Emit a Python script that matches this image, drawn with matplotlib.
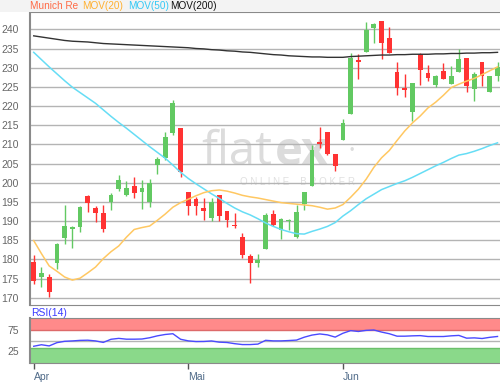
import matplotlib
matplotlib.use("Agg")
import matplotlib.pyplot as plt
from matplotlib.patches import Rectangle

plt.rcParams['font.family'] = ['Liberation Sans', 'DejaVu Sans']

# daily candles, Apr - Jun
opens = [179.2, 175.5, 175.5, 179.0, 185.6, 188.0, 188.5, 196.4, 193.5, 192.0,
         194.9, 198.4, 196.8, 199.1, 197.7, 194.9, 204.6, 206.4, 212.9, 214.2,
         197.5, 195.7, 193.3, 190.7, 196.9, 192.5, 189.0, 185.9, 181.0, 179.0,
         182.6, 191.8, 187.7, 190.0, 185.9, 194.4, 199.2, 210.5, 213.3, 207.5,
         211.1, 217.9, 232.0, 234.2, 240.3, 242.2, 237.7, 228.9, 224.8, 218.5,
         233.5, 228.7, 225.4, 229.2, 225.7, 228.9, 232.4, 224.4, 231.5, 223.6,
         227.7]
highs = [181.1, 177.9, 176.1, 184.4, 194.2, 188.6, 193.9, 196.9, 193.9, 194.2,
         197.2, 202.0, 200.5, 201.4, 200.6, 200.9, 206.8, 213.3, 221.6, 214.2,
         197.5, 196.3, 195.9, 195.9, 196.9, 192.5, 192.2, 186.8, 181.5, 181.4,
         192.2, 192.8, 190.7, 190.5, 194.2, 197.6, 209.8, 214.4, 213.3, 207.5,
         216.5, 233.9, 233.5, 241.8, 241.6, 242.2, 240.5, 231.5, 228.3, 225.9,
         233.9, 230.7, 228.1, 231.3, 230.4, 234.8, 232.4, 228.9, 231.5, 227.7,
         231.5]
lows = [173.6, 172.9, 170.3, 177.4, 183.9, 182.9, 187.2, 192.4, 189.8, 187.1,
        192.9, 197.9, 196.5, 196.1, 193.2, 193.7, 202.2, 205.9, 212.4, 201.4,
        191.6, 191.6, 190.3, 190.0, 190.1, 188.4, 188.2, 180.4, 173.8, 177.9,
        182.6, 188.6, 185.2, 187.7, 185.5, 192.8, 199.2, 209.0, 207.1, 203.1,
        211.1, 217.9, 227.0, 234.2, 236.5, 232.3, 233.7, 222.9, 222.3, 216.2,
        225.4, 226.4, 225.0, 227.1, 225.7, 228.9, 223.7, 221.4, 225.2, 223.6,
        226.4]
closes = [174.4, 176.5, 171.6, 184.0, 188.7, 188.4, 193.7, 194.6, 192.2, 187.9,
          196.7, 200.7, 198.7, 197.4, 198.5, 199.9, 206.2, 212.0, 220.7, 202.9,
          193.9, 193.9, 192.7, 195.0, 191.2, 190.4, 188.7, 181.1, 179.0, 179.8,
          191.6, 189.0, 190.5, 190.3, 192.4, 197.6, 208.5, 210.1, 207.5, 204.4,
          215.5, 232.4, 231.4, 239.8, 241.4, 236.5, 233.7, 224.6, 224.1, 225.9,
          229.4, 227.4, 227.7, 227.1, 227.7, 232.2, 225.2, 228.4, 227.7, 227.7,
          230.1]

mov20 = [184.9, 181.5, 178.3, 176.9, 175.4, 174.6, 175.1, 176.5, 178.0, 180.2,
         182.0, 183.5, 185.8, 187.8, 188.3, 188.7, 190.2, 191.8, 193.6, 194.8,
         195.7, 196.6, 197.4, 197.9, 198.1, 197.8, 197.3, 196.7, 196.3, 196.0,
         195.6, 195.2, 194.8, 194.6, 194.4, 194.2, 194.0, 193.6, 193.1, 193.4,
         194.3, 196.2, 198.3, 200.9, 204.0, 206.5, 208.4, 211.0, 213.5, 215.6,
         217.4, 219.5, 221.0, 222.8, 224.8, 225.7, 226.5, 227.2, 228.2, 229.2,
         230.2]
mov50 = [234.0, 232.1, 230.2, 228.4, 226.6, 224.9, 223.5, 222.1, 220.7, 219.0,
         217.3, 215.7, 214.2, 212.6, 211.0, 209.4, 207.9, 206.4, 204.6, 202.7,
         201.1, 199.7, 198.4, 197.1, 195.9, 194.6, 193.4, 192.4, 191.6, 190.6,
         189.5, 188.6, 187.8, 187.2, 186.7, 186.6, 187.3, 187.9, 188.6, 189.6,
         191.3, 192.7, 194.3, 195.8, 197.0, 198.2, 199.0, 199.8, 200.5, 201.4,
         202.4, 203.4, 204.4, 205.3, 206.3, 207.2, 207.6, 208.2, 208.9, 209.7,
         210.4]
mov200 = [238.3, 238.0, 237.7, 237.4, 237.1, 236.9, 236.8, 236.7, 236.5, 236.3,
          236.2, 236.1, 236.0, 235.9, 235.8, 235.7, 235.6, 235.5, 235.4, 235.3,
          235.2, 235.0, 234.9, 234.7, 234.6, 234.4, 234.3, 234.1, 234.0, 233.8,
          233.6, 233.4, 233.3, 233.1, 233.0, 232.9, 232.8, 232.8, 232.7, 232.7,
          232.7, 232.9, 233.0, 233.1, 233.2, 233.3, 233.3, 233.4, 233.4, 233.5,
          233.5, 233.5, 233.6, 233.6, 233.7, 233.7, 233.8, 233.8, 233.9, 233.9,
          234.0]
rsi = [36.9, 40.5, 37.7, 45.4, 48.6, 49.5, 50.8, 51.2, 49.5, 46.0,
       53.4, 55.5, 53.6, 53.6, 54.0, 57.0, 61.5, 64.7, 66.5, 53.4,
       49.6, 48.0, 48.2, 49.4, 46.6, 45.8, 43.0, 40.9, 40.9, 42.0,
       50.9, 49.6, 49.6, 50.4, 51.5, 58.3, 63.3, 66.0, 63.8, 58.5,
       67.6, 73.8, 71.8, 74.4, 75.3, 70.4, 66.5, 60.7, 60.7, 61.5,
       62.0, 59.9, 59.9, 59.9, 61.5, 62.5, 56.0, 56.7, 55.2, 58.0,
       60.0]

month_pos = [0, 20, 40]
month_labels = ["Apr", "Mai", "Jun"]
price_ticks = list(range(170, 245, 5))

GREEN = "#62c962"
RED = "#ff3333"
GRID = "#b4b4b4"
SPINE = "#8a8a8a"

W, H = 500, 383
fig = plt.figure(figsize=(W / 100, H / 100), dpi=100, facecolor="white")

# light header strip
fig.patches.append(Rectangle((0, 1 - 11.7 / H), 1, 11.7 / H, transform=fig.transFigure,
                             facecolor="#f3f3f3", edgecolor="none", zorder=0))

ax = fig.add_axes([30 / W, 1 - 305 / H, 470 / W, (305 - 11.7) / H])
rax = fig.add_axes([30 / W, 1 - 362.7 / H, 470 / W, (362.7 - 318.3) / H])

xs = list(range(len(opens)))
xlim = (-0.48, 60.32)

# watermark
ax.text(0.515, 0.52, "flat", transform=ax.transAxes, fontsize=34, color="#dcdcdc",
        ha="right", va="center", family="Open Sans", zorder=0.5)
ax.text(0.522, 0.52, "ex", transform=ax.transAxes, fontsize=34, color="#dcdcdc",
        ha="left", va="center", family="Open Sans", weight="bold", zorder=0.5)
ax.text(0.685, 0.525, "\u2022", transform=ax.transAxes, fontsize=9, color="#dcdcdc",
        ha="center", va="center", zorder=0.5)
ax.text(0.57, 0.42, "O N L I N E    B R O K E R", transform=ax.transAxes, fontsize=7,
        color="#e0e0e0", ha="center", va="center", zorder=0.5)

# candles
for i in xs:
    o, c = opens[i], closes[i]
    col = GREEN if c >= o else RED
    ax.vlines(i, lows[i], highs[i], color=col, lw=1.0, zorder=3)
    h = abs(c - o)
    if h < 0.35:
        h = 0.35
    ax.bar(i, h, bottom=min(o, c), width=0.62, color=col, edgecolor="none", zorder=4)

ax.plot(xs, mov200, color="#333333", lw=1.0, zorder=5)
ax.plot(xs, mov50, color="#66ddf5", lw=1.1, zorder=5)
ax.plot(xs, mov20, color="#ffc862", lw=1.1, zorder=5)

ax.set_xlim(*xlim)
ax.set_ylim(168.1, 244.6)
ax.set_yticks(price_ticks)
ax.yaxis.grid(True, color=GRID, lw=1.0, zorder=1)
ax.set_axisbelow(True)
ax.set_xticks([])
ax.tick_params(axis="y", length=0, pad=8, labelsize=7.5, labelcolor="#666666")
for s in ["left", "top", "bottom"]:
    ax.spines[s].set_color(SPINE)
ax.spines["left"].set_linewidth(1.5)
ax.spines["right"].set_visible(False)

# header legend
hy = 1 - 6 / H
fig.text(30 / W, hy, "Munich Re", color="#ff6a45", fontsize=7.2, va="center")
fig.text(81.7 / W, hy, "MOV(20)", color="#ffb030", fontsize=7.2, va="center")
fig.text(127.7 / W, hy, "MOV(50)", color="#33c8f5", fontsize=7.2, va="center")
fig.text(170.5 / W, hy, "MOV(200)", color="#111111", fontsize=7.2, va="center")

# RSI panel
rlo, rhi = -1.9, 102.9
rax.axhspan(75, rhi, color="#ff8a8a", zorder=1, lw=0)
rax.axhspan(rlo, 33.5, color="#8ad98a", zorder=1, lw=0)
rax.axhline(75, color="#dd6a6a", lw=1.0, zorder=2)
rax.axhline(33.5, color="#6cbf6c", lw=1.0, zorder=2)
rax.axhline(50, color=GRID, lw=1.0, zorder=2)
rax.plot(xs, rsi, color="#4a4aff", lw=1.0, zorder=4)
rax.set_xlim(*xlim)
rax.set_ylim(rlo, rhi)
rax.set_yticks([25, 75])
rax.tick_params(axis="y", length=0, pad=8, labelsize=7.5, labelcolor="#666666")
rax.set_xticks(month_pos)
rax.set_xticklabels(month_labels, ha="left")
rax.tick_params(axis="x", length=4, width=1, color="#555555", pad=3,
                labelsize=7.5, labelcolor="#4f6a88")
for s in ["left", "top", "bottom"]:
    rax.spines[s].set_color(SPINE)
rax.spines["left"].set_linewidth(1.5)
rax.spines["right"].set_visible(False)
fig.text(31 / W, 1 - 313 / H, "RSI(14)", color="#3b3bff", fontsize=7.5, va="center")

fig.savefig("out.png", dpi=100, facecolor="white")
